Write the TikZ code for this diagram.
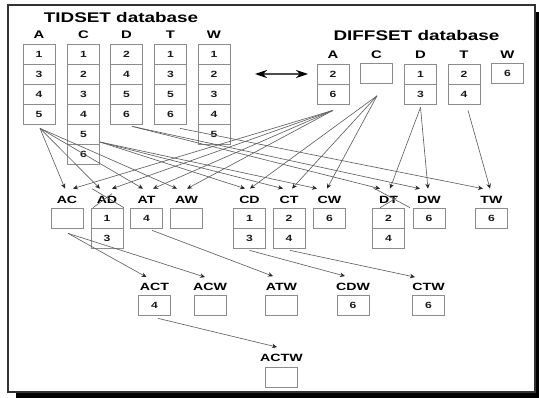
\documentclass[tikz,border=0pt]{standalone}
\usepackage{fontspec}
\setmainfont{Liberation Sans}
\usetikzlibrary{arrows.meta}
\newcommand{\wtxt}[1]{\scalebox{1.35}[1]{#1}}
\newcommand{\cellat}[4]{\node[cell] (#1) at (#2,#3) {\wtxt{#4}};}
\tikzset{
 cell/.style={draw=black!45, line width=0.7pt, minimum width=32pt, minimum height=20pt, inner sep=0pt, font=\fontsize{9}{9}\selectfont\bfseries, text=black!90},
 head/.style={font=\fontsize{11}{11}\selectfont\bfseries, inner sep=0pt, text=black},
 lab/.style={font=\fontsize{10.5}{10.5}\selectfont\bfseries, inner sep=0pt, text=black},
 ttl/.style={font=\fontsize{14}{14}\selectfont\bfseries, inner sep=0pt, text=black},
 con/.style={draw=black!62, line width=0.65pt, -{Stealth[length=5pt,width=4.5pt,color=black!85,fill=black!85]}},
 xmark/.style={draw=black!62, line width=0.65pt},
}
\begin{document}
\begin{tikzpicture}[x=1pt,y=-1pt]
\useasboundingbox (0,0) rectangle (539,398);
% frame with shadow
\fill[black] (16,392.5) rectangle (539,398);
\fill[black] (535.5,12) rectangle (539,398);
\draw[line width=1.4pt, black!80] (8,5) rectangle (535,392);

% TIDSET
\node[ttl] (ttid) at (121,17) {\wtxt{TIDSET database}};
\node[head] (hA) at (39,35) {\wtxt{A}};
\node[head] (hC) at (83.5,35) {\wtxt{C}};
\node[head] (hD) at (126.5,35) {\wtxt{D}};
\node[head] (hT) at (170.5,35) {\wtxt{T}};
\node[head] (hW) at (214,35) {\wtxt{W}};
\cellat{tA1}{39}{54}{1}\cellat{tA2}{39}{74}{3}\cellat{tA3}{39}{94}{4}\cellat{tA4}{39}{114}{5}
\cellat{tC1}{83.5}{54}{1}\cellat{tC2}{83.5}{74}{2}\cellat{tC3}{83.5}{94}{3}\cellat{tC4}{83.5}{114}{4}\cellat{tC5}{83.5}{134}{5}\cellat{tC6}{83.5}{154}{6}
\cellat{tD1}{126.5}{54}{2}\cellat{tD2}{126.5}{74}{4}\cellat{tD3}{126.5}{94}{5}\cellat{tD4}{126.5}{114}{6}
\cellat{tT1}{170.5}{54}{1}\cellat{tT2}{170.5}{74}{3}\cellat{tT3}{170.5}{94}{5}\cellat{tT4}{170.5}{114}{6}
\cellat{tW1}{214}{54}{1}\cellat{tW2}{214}{74}{2}\cellat{tW3}{214}{94}{3}\cellat{tW4}{214}{114}{4}\cellat{tW5}{214}{134}{5}

% double arrow
\coordinate (dl) at (255,74);
\coordinate (dr) at (308,74);
\draw[black!70, line width=1.6pt, {Stealth[length=12pt,width=8pt,color=black,fill=black]}-{Stealth[length=12pt,width=8pt,color=black,fill=black]}] (dl) -- (dr);

% DIFFSET
\node[ttl] (tdif) at (416.5,35) {\wtxt{DIFFSET database}};
\node[head] (gA) at (333,55) {\wtxt{A}};
\node[head] (gC) at (376.5,55) {\wtxt{C}};
\node[head] (gD) at (420.5,55) {\wtxt{D}};
\node[head] (gT) at (464,55) {\wtxt{T}};
\node[head] (gW) at (507.5,55) {\wtxt{W}};
\cellat{dA1}{333}{74}{2}\cellat{dA2}{333}{94}{6}
\cellat{dC1}{376.5}{73.5}{}
\cellat{dD1}{420.5}{74}{1}\cellat{dD2}{420.5}{94}{3}
\cellat{dT1}{464}{74}{2}\cellat{dT2}{464}{94}{4}
\cellat{dW1}{507.5}{73.5}{6}

% level 2
\foreach \n/\x in {AC/67,AD/107,AT/146.5,AW/186.5,CD/249.5,CT/289,CW/329.5,DT/388.5,DW/429,TW/491.5}
  \node[lab] (l\n) at (\x,199.5) {\wtxt{\n}};
\cellat{cAC}{67}{218}{}
\cellat{cAD1}{107}{218}{1}\cellat{cAD2}{107}{238}{3}
\cellat{cAT}{146.5}{218}{4}
\cellat{cAW}{186.5}{218}{}
\cellat{cCD1}{249.5}{218}{1}\cellat{cCD2}{249.5}{238}{3}
\cellat{cCT1}{289}{218}{2}\cellat{cCT2}{289}{238}{4}
\cellat{cCW}{329.5}{218}{6}
\cellat{cDT1}{388.5}{218}{2}\cellat{cDT2}{388.5}{238}{4}
\cellat{cDW}{429}{218}{6}
\cellat{cTW}{491.5}{218}{6}

% level 3
\foreach \n/\x in {ACT/154.5,ACW/210,ATW/281.5,CDW/353,CTW/428.5}
  \node[lab] (l\n) at (\x,287) {\wtxt{\n}};
\cellat{cACT}{154.5}{305}{4}
\cellat{cACW}{210}{305}{}
\cellat{cATW}{281.5}{305}{}
\cellat{cCDW}{353}{305}{6}
\cellat{cCTW}{428.5}{305}{6}
\node[lab] (lACTW) at (281.5,358) {\wtxt{ACTW}};
\cellat{cACTW}{281.5}{377.5}{}

% sources
\coordinate (sA) at ([xshift=1pt,yshift=-4pt]tA4.south);
\coordinate (sC) at ([yshift=-8pt]tC5.east);
\coordinate (sD) at ([xshift=5.5pt,yshift=-2pt]tD4.south);
\coordinate (sT) at ([xshift=9.5pt,yshift=-4pt]tT4.south);
\coordinate (rA) at ([yshift=-6pt]dA2.south);
\coordinate (rC) at ([xshift=0.5pt,yshift=-12pt]dC1.south);
\coordinate (rD) at ([yshift=-3pt]dD2.south);
\coordinate (rT) at ([xshift=4pt,yshift=-6pt]dT2.south);

% TIDSET -> level 2
\draw[con] (sA) -- ([xshift=-2pt,yshift=7pt]lAC.north);
\draw[con] (sA) -- ([xshift=-7pt,yshift=7pt]lAD.north);
\draw[con] (sA) -- ([xshift=-3.5pt,yshift=7pt]lAT.north);
\draw[con] (sA) -- ([xshift=-9.5pt,yshift=7pt]lAW.north);
\draw[con] (sC) -- ([xshift=-4.5pt,yshift=7pt]lCD.north);
\draw[con] (sC) -- ([xshift=-6pt,yshift=7pt]lCT.north);
\draw[con] (sC) -- ([xshift=-12.5pt,yshift=7pt]lCW.north);
\draw[con] (sD) -- ([xshift=-8.5pt,yshift=7pt]lDT.north);
\draw[con] (sD) -- ([xshift=-9pt,yshift=7pt]lDW.north);
\draw[con] (sT) -- ([xshift=-8.5pt,yshift=7pt]lTW.north);
% DIFFSET -> level 2
\draw[con] (rA) -- ([xshift=6pt,yshift=7pt]lAC.north);
\draw[con] (rA) -- ([xshift=5pt,yshift=7pt]lAD.north);
\draw[con] (rA) -- ([xshift=6.5pt,yshift=7pt]lAT.north);
\draw[con] (rA) -- ([xshift=0.5pt,yshift=7pt]lAW.north);
\draw[con] (rC) -- ([xshift=0.5pt,yshift=7pt]lCD.north);
\draw[con] (rC) -- ([xshift=3pt,yshift=7pt]lCT.north);
\draw[con] (rC) -- ([xshift=-2.5pt,yshift=7pt]lCW.north);
\draw[con] (rD) -- ([xshift=1.5pt,yshift=7pt]lDT.north);
\draw[con] (rD) -- ([xshift=-1pt,yshift=7pt]lDW.north);
\draw[con] (rT) -- ([xshift=-1.5pt,yshift=7pt]lTW.north);

% cross marks
\draw[xmark] ([xshift=-15pt,yshift=7pt]lAD.north) -- ([xshift=17pt,yshift=-12pt]lAD.north);
\draw[xmark] ([xshift=-14pt,yshift=-12pt]lAD.north) -- ([xshift=5pt,yshift=2pt]lAD.north);
\draw[xmark] ([xshift=-15.5pt,yshift=8pt]lDT.north) -- ([xshift=21.5pt,yshift=-12pt]lDT.north);
\draw[xmark] ([xshift=-8.5pt,yshift=-12pt]lDT.north) -- ([xshift=8.5pt,yshift=-2pt]lDT.north);

% level 2 -> level 3
\coordinate (sAC) at ([xshift=1pt,yshift=-5pt]cAC.south);
\draw[con] (sAC) -- ([xshift=-8pt,yshift=6pt]lACT.north);
\draw[con] (sAC) -- ([xshift=-5pt,yshift=6pt]lACW.north);
\draw[con] ([xshift=5.5pt,yshift=-2pt]cAT.south) -- ([xshift=-8.5pt,yshift=7pt]lATW.north);
\draw[con] ([yshift=-2pt]cCD2.south) -- ([xshift=-8pt,yshift=7pt]lCDW.north);
\draw[con] ([xshift=1pt,yshift=-2pt]cCT2.south) -- ([xshift=-13.5pt,yshift=6pt]lCTW.north);
% level 3 -> level 4
\draw[con] ([xshift=3.5pt,yshift=-3pt]cACT.south) -- ([xshift=-4.5pt,yshift=7pt]lACTW.north);
\end{tikzpicture}
\end{document}
